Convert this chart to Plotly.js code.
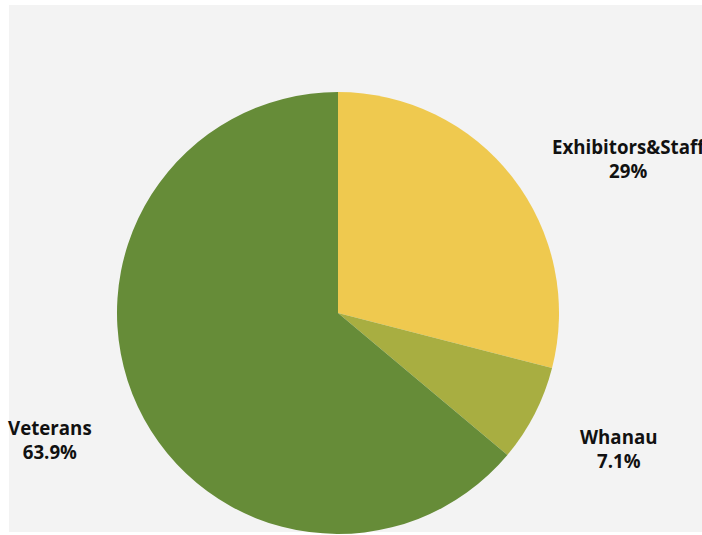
<!DOCTYPE html>
<html>
<head>
<meta charset="utf-8">
<script src="https://cdn.plot.ly/plotly-3.0.1.min.js"></script>
<style>
html,body{margin:0;padding:0;background:#ffffff;}
#chart{width:702px;height:535px;}
</style>
</head>
<body>
<div id="chart"></div>
<script>
// Data
const labels = ["Exhibitors&Staff", "Whanau", "Veterans"];
const values = [29, 7.1, 63.9];
const colors = ["#EFC94F", "#A8AE41", "#668C38"];

// Label annotation positions (pixels, layout only)
const labelPx = [[629, 158], [619, 448], [50, 439]];

const W = 702, H = 535;

const trace = {
  type: "pie",
  labels: labels,
  values: values,
  marker: {colors: colors, line: {width: 0}},
  sort: false,
  direction: "clockwise",
  rotation: 0,
  textinfo: "none",
  hoverinfo: "label+percent",
  showlegend: false,
  domain: {x: [(338 - 221) / W, (338 + 221) / W], y: [(H - 313 - 221) / H, (H - 313 + 221) / H]}
};

const annotations = labels.map((l, i) => ({
  xref: "paper", yref: "paper",
  x: labelPx[i][0] / W, y: 1 - labelPx[i][1] / H,
  xanchor: "center", yanchor: "middle",
  text: "<b>" + l + "</b><br><b>" + values[i] + "%</b>",
  showarrow: false,
  align: "center",
  font: {family: "Open Sans", size: 18.7, color: "#111111"}
}));

const layout = {
  width: W, height: H,
  margin: {l: 0, r: 0, t: 0, b: 0},
  paper_bgcolor: "#ffffff",
  shapes: [{
    type: "rect", xref: "paper", yref: "paper", layer: "below",
    x0: 9 / W, x1: 1, y0: (H - 532) / H, y1: (H - 5) / H,
    fillcolor: "#f3f3f3", line: {width: 0}
  }],
  annotations: annotations
};

Plotly.newPlot("chart", [trace], layout, {displayModeBar: false, staticPlot: true});
</script>
</body>
</html>
